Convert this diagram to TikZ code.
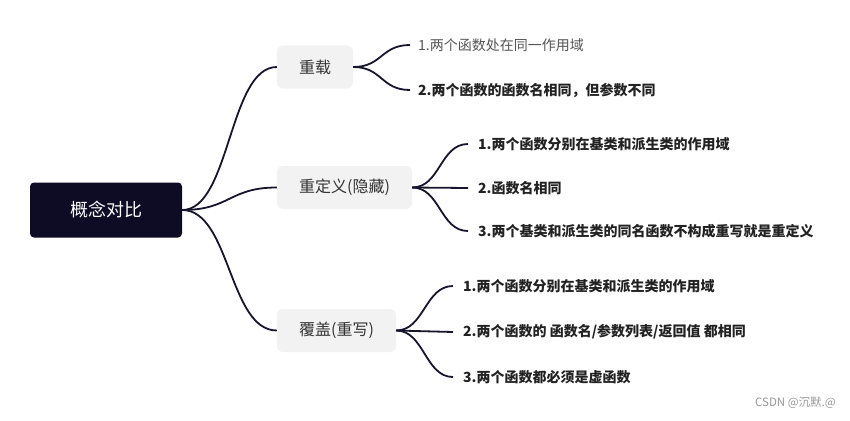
\documentclass[tikz,border=0pt]{standalone}
\usepackage{fontspec}
\setmainfont{Noto Sans CJK SC}
\definecolor{rootfill}{HTML}{0E0C24}
\definecolor{boxfill}{HTML}{F2F2F2}
\definecolor{linecol}{HTML}{16152B}
\definecolor{boxtext}{HTML}{333333}
\definecolor{leaftext}{HTML}{222222}
\definecolor{lighttext}{HTML}{555555}
\definecolor{marktext}{HTML}{999999}
\begin{document}
\begin{tikzpicture}[x=1pt,y=-1pt,
  rootbox/.style={fill=rootfill,rounded corners=4pt,minimum width=152pt,minimum height=55pt,text=white,font=\fontsize{18}{21}\selectfont,inner sep=0pt},
  subbox/.style={fill=boxfill,rounded corners=6pt,minimum height=43pt,text=boxtext,font=\fontsize{16}{19}\selectfont,inner sep=0pt},
  leaf/.style={anchor=west,inner sep=0pt,text=leaftext,font=\bfseries\fontsize{14}{17}\selectfont},
  leaflight/.style={anchor=west,inner sep=0pt,text=lighttext,font=\fontsize{14}{17}\selectfont},
  link/.style={draw=linecol,line width=1.8pt}]
\useasboundingbox (0,0) rectangle (850,420);
\node[rootbox] (root) at (106,210) {概念对比};
\node[subbox,minimum width=76pt] (s1) at (315,67) {重载};
\node[subbox,minimum width=135pt] (s2) at (344.5,187.5) {重定义(隐藏)};
\node[subbox,minimum width=119pt] (s3) at (336.5,330.5) {覆盖(重写)};
% leaves
\coordinate (e11) at (410,45);
\coordinate (e12) at (410,90);
\node[leaflight] (l11) at (418,45) {1.两个函数处在同一作用域};
\node[leaf] (l12) at (418,90) {2.两个函数的函数名相同，但参数不同};
\coordinate (e21) at (468,144);
\coordinate (e22) at (468,188);
\coordinate (e23) at (468,231);
\node[leaf] (l21) at (478,144) {1.两个函数分别在基类和派生类的作用域};
\node[leaf] (l22) at (478,188) {2.函数名相同};
\node[leaf] (l23) at (478,231) {3.两个基类和派生类的同名函数不构成重写就是重定义};
\coordinate (e31) at (453,286);
\coordinate (e32) at (453,332);
\coordinate (e33) at (453,377);
\node[leaf] (l31) at (463,286) {1.两个函数分别在基类和派生类的作用域};
\node[leaf] (l32) at (463,332) {2.两个函数的 函数名/参数列表/返回值 都相同};
\node[leaf] (l33) at (463,377) {3.两个函数都必须是虚函数};
% connectors
\draw[link] (root.east) .. controls +(48,0) and +(-48,0) .. (s1.west);
\draw[link] (root.east) .. controls +(48,0) and +(-48,0) .. (s2.west);
\draw[link] (root.east) .. controls +(48,0) and +(-48,0) .. (s3.west);
\draw[link] (s1.east) .. controls +(29,0) and +(-29,0) .. (e11);
\draw[link] (s1.east) .. controls +(29,0) and +(-29,0) .. (e12);
\draw[link] (s2.east) .. controls +(28,0) and +(-28,0) .. (e21);
\draw[link] (s2.east) -- (e22);
\draw[link] (s2.east) .. controls +(28,0) and +(-28,0) .. (e23);
\draw[link] (s3.east) .. controls +(28,0) and +(-28,0) .. (e31);
\draw[link] (s3.east) -- (e32);
\draw[link] (s3.east) .. controls +(28,0) and +(-28,0) .. (e33);
\node[anchor=east,inner sep=0pt,text=marktext,font=\fontsize{11.5}{14}\selectfont] (wm) at (836,403) {CSDN @沉默.@};
\end{tikzpicture}
\end{document}
